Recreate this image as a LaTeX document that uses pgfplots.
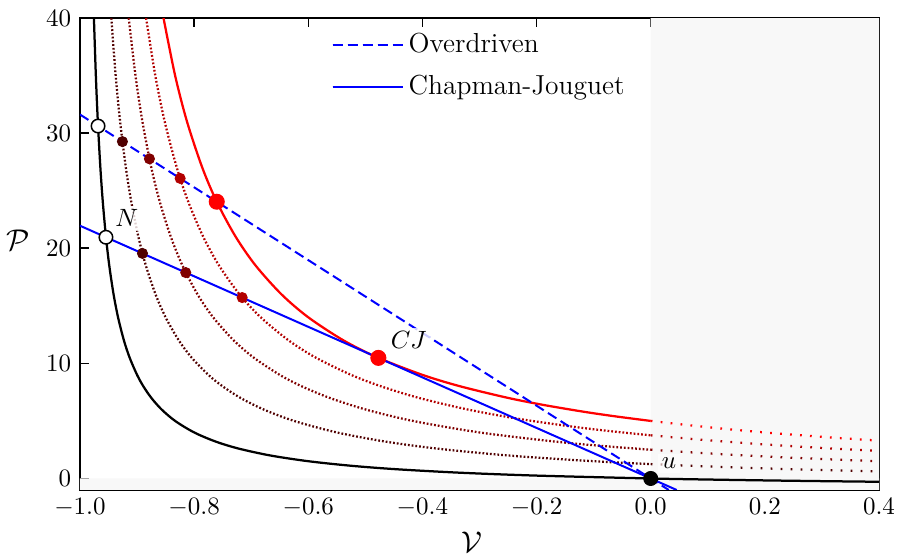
\documentclass[border=0pt]{standalone}
\usepackage{pgfplots}
\pgfplotsset{compat=1.18}
\definecolor{shade}{RGB}{248,248,248}
\definecolor{qa}{RGB}{80,0,0}
\definecolor{qb}{RGB}{128,0,0}
\definecolor{qc}{RGB}{178,0,0}
\definecolor{qd}{RGB}{255,0,0}
\definecolor{ray}{RGB}{0,0,255}
\tikzset{
  dense dots/.style={line width=0.9pt, line cap=butt, dash pattern=on 0.7pt off 0.8pt},
  loose dots/.style={line width=0.9pt, line cap=butt, dash pattern=on 0.7pt off 3.3pt},
}
\begin{document}
\begin{tikzpicture}
\begin{axis}[
    name=ax,
    scale only axis,
    width=319.6pt, height=188.8pt,
    xmin=-1, xmax=0.4, ymin=-1, ymax=40,
    xtick={-1,-0.8,-0.6,-0.4,-0.2,0,0.2,0.4},
    ytick={0,10,20,30,40},
    xticklabel style={/pgf/number format/fixed, /pgf/number format/fixed zerofill, /pgf/number format/precision=1},
    tick align=inside,
    major tick length=3.5pt,
    tick style={black, line width=0.6pt},
    axis line style={line width=0.6pt},
    xlabel={$\mathcal{V}$}, ylabel={$\mathcal{P}$},
    every axis x label/.style={at={(rel axis cs:0.49,0)}, anchor=center, yshift=-20.8pt, font=\large},
    every axis y label/.style={at={(rel axis cs:0,0.53)}, anchor=center, xshift=-24.8pt, font=\large},
    legend style={at={(rel axis cs:0.305,0.99)}, anchor=north west, draw=none, fill=none, row sep=3.5pt, font=\fontsize{11}{13}\selectfont},
    legend cell align=left,
    legend image code/.code={\draw[#1] (0pt,0pt) -- (22pt,0pt); \path (0pt,0pt) -- (28pt,0pt);},
]
% non-physical regions
\addplot[draw=none, fill=shade, forget plot] coordinates {(0,-1) (0.4,-1) (0.4,40) (0,40) (0,-1)};
\addplot[draw=none, fill=shade, forget plot] coordinates {(-1,-1) (0.4,-1) (0.4,0) (-1,0) (-1,-1)};

% Hugoniot q = 0 (shock)
\addplot[black, line width=0.9pt, smooth, forget plot] table {
-0.97561 40
-0.97222 35
-0.96875 31
-0.96429 27
-0.96000 24
-0.95455 21
-0.94872 18.5
-0.94118 16
-0.93333 14
-0.92308 12
-0.91304 10.5
-0.90000 9
-0.88889 8
-0.87500 7
-0.85714 6
-0.83333 5
-0.80000 4
-0.76190 3.2
-0.72222 2.6
-0.66667 2
-0.60000 1.5
-0.52381 1.1
-0.44444 0.8
-0.33333 0.5
-0.20000 0.25
0 0
0.1 -0.09091
0.2 -0.16667
0.3 -0.23077
0.4 -0.28571
};

% Hugoniot q = 1.25
\addplot[qa, dense dots, smooth, forget plot] table {
-0.94512 40
-0.93750 35
-0.92969 31
-0.91964 27
-0.91000 24
-0.89773 21
-0.88462 18.5
-0.86765 16
-0.85000 14
-0.82692 12
-0.80435 10.5
-0.77500 9
-0.75000 8
-0.71875 7
-0.67857 6
-0.62500 5
-0.55000 4
-0.46429 3.2
-0.37500 2.6
-0.25000 2
-0.10000 1.5
0 1.25
};
\addplot[qa, loose dots, smooth, forget plot] table {
0 1.25
0.1 1.04545
0.2 0.875
0.3 0.73077
0.4 0.60714
};

% Hugoniot q = 2.5
\addplot[qb, dense dots, smooth, forget plot] table {
-0.91463 40
-0.90278 35
-0.89063 31
-0.87500 27
-0.86000 24
-0.84091 21
-0.82051 18.5
-0.79412 16
-0.76667 14
-0.73077 12
-0.69565 10.5
-0.65000 9
-0.61111 8
-0.56250 7
-0.50000 6
-0.41667 5
-0.30000 4
-0.16667 3.2
-0.07895 2.8
0 2.5
};
\addplot[qb, loose dots, smooth, forget plot] table {
0 2.5
0.1 2.18182
0.2 1.91667
0.3 1.69231
0.4 1.5
};

% Hugoniot q = 3.75
\addplot[qc, dense dots, smooth, forget plot] table {
-0.88415 40
-0.86806 35
-0.85156 31
-0.83036 27
-0.81000 24
-0.78409 21
-0.75641 18.5
-0.72059 16
-0.68333 14
-0.63462 12
-0.58696 10.5
-0.52500 9
-0.47222 8
-0.40625 7
-0.32143 6
-0.23387 5.2
-0.13636 4.5
-0.06863 4.1
0 3.75
};
\addplot[qc, loose dots, smooth, forget plot] table {
0 3.75
0.1 3.31818
0.2 2.95833
0.3 2.65385
0.4 2.39286
};

% Hugoniot q = 5 (complete reaction)
\addplot[qd, line width=0.9pt, smooth, forget plot] table {
-0.85366 40
-0.83333 35
-0.81250 31
-0.78571 27
-0.76000 24
-0.72727 21
-0.69231 18.5
-0.64706 16
-0.60000 14
-0.53846 12
-0.47826 10.5
-0.40000 9
-0.33333 8
-0.25000 7
-0.18919 6.4
-0.11765 5.8
-0.06250 5.4
0 5
};
\addplot[qd, loose dots, smooth, forget plot] table {
0 5
0.1 4.45455
0.2 4
0.3 3.61538
0.4 3.28571
};

% Rayleigh lines
\addplot[ray, line width=0.8pt, dash pattern=on 4pt off 2pt] coordinates {(-1,31.615) (0.031631,-1)};
\addlegendentry{Overdriven}
\addplot[ray, line width=0.8pt] coordinates {(-1,21.955) (0.045548,-1)};
\addlegendentry{Chapman-Jouguet}

% intersections
\addplot[only marks, mark=*, mark size=2pt, qa, forget plot] coordinates {(-0.92565,29.264) (-0.8905,19.55)};
\addplot[only marks, mark=*, mark size=2pt, qb, forget plot] coordinates {(-0.87833,27.769) (-0.8147,17.886)};
\addplot[only marks, mark=*, mark size=2pt, qc, forget plot] coordinates {(-0.82451,26.067) (-0.7158,15.716)};
\addplot[only marks, mark=*, mark size=3pt, qd, forget plot] coordinates {(-0.76039,24.04) (-0.4772,10.477)};
\addplot[only marks, mark=*, mark size=2.7pt, mark options={fill=white, draw=black, line width=0.6pt}, forget plot] coordinates {(-0.96837,30.615) (-0.95455,20.955)};
\addplot[only marks, mark=*, mark size=2.8pt, black, forget plot] coordinates {(0,0)};

\node[fill=white, fill opacity=0.8, text opacity=1, inner sep=1.5pt] at (axis cs:-0.918,22.6) {$N$};
\node[fill=white, fill opacity=0.8, text opacity=1, inner sep=1.5pt] at (axis cs:-0.424,12.0) {$CJ$};
\node[fill=white, fill opacity=0.6, text opacity=1, inner sep=1.5pt] at (axis cs:0.032,1.3) {$u$};
\end{axis}
\pgfresetboundingbox
\path ([xshift=-32pt,yshift=-26pt]ax.south west) rectangle ([xshift=7.6pt,yshift=7.2pt]ax.north east);
\end{tikzpicture}
\end{document}
